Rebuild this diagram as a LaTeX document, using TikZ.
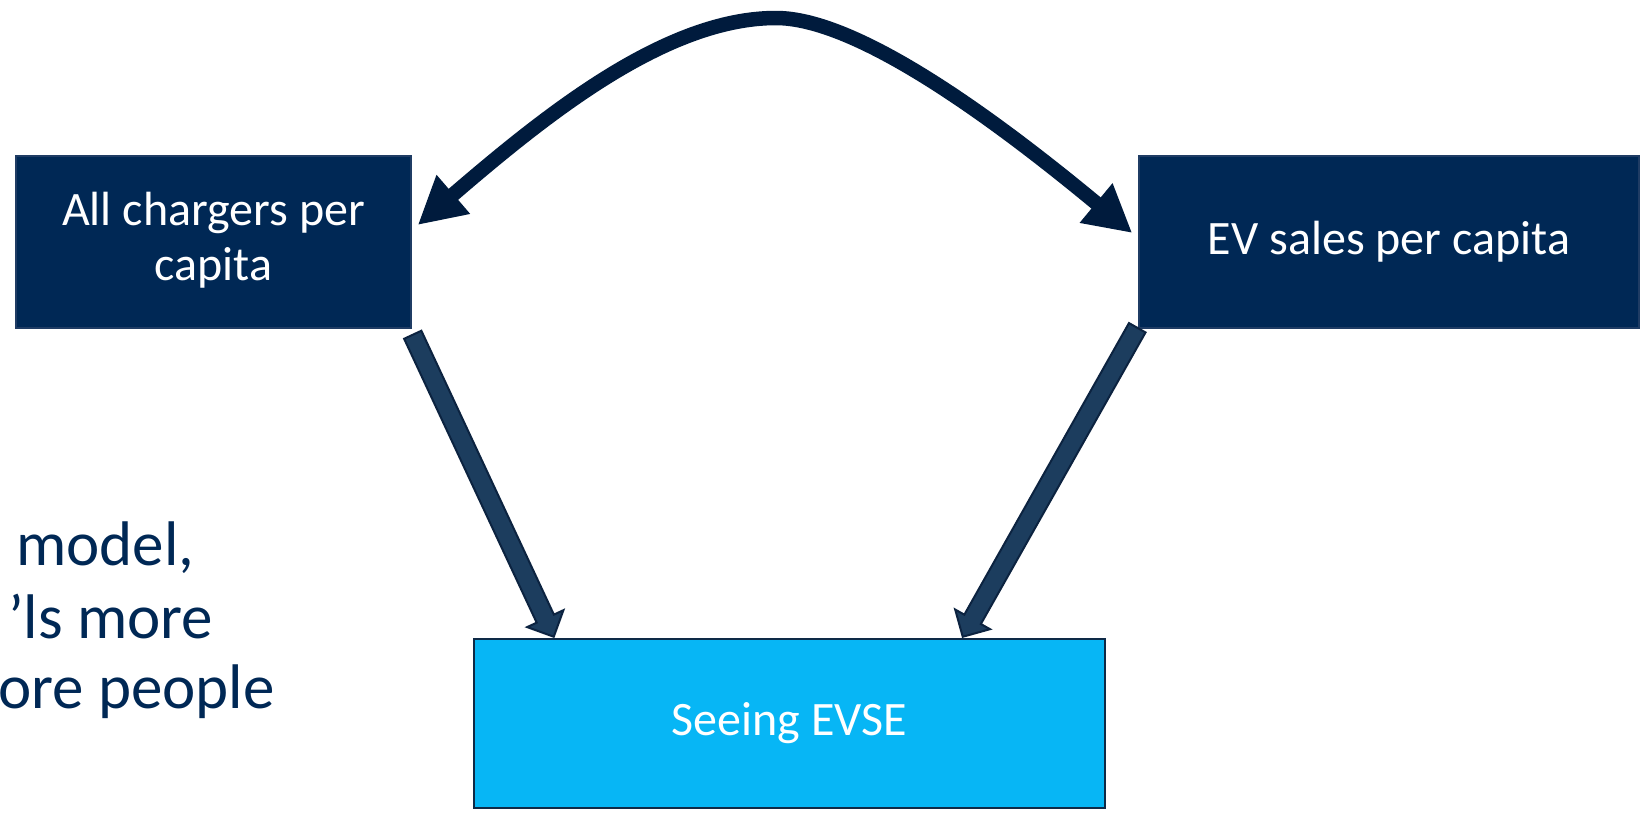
\documentclass[tikz,border=0pt]{standalone}
\usepackage{fontspec}
\setmainfont{Carlito}
\usetikzlibrary{arrows.meta,calc}
\definecolor{navy}{HTML}{002855}
\definecolor{navyedge}{HTML}{1F3C64}
\definecolor{curvecol}{HTML}{001B3D}
\definecolor{blockfill}{HTML}{1C3D5E}
\definecolor{blockedge}{HTML}{0C2340}
\definecolor{cyanfill}{HTML}{07B6F5}
\definecolor{cyanedge}{HTML}{0E2A47}
\newcommand\blkarrow[3]{%
  \coordinate (#3h) at ($(#2)!20pt!(#1)$);
  \draw[blockarrow] ($(#1)!9.5pt!90:(#2)$) -- ($(#3h)!9.5pt!90:(#2)$) -- ($(#3h)!20pt!90:(#2)$) -- (#2)
    -- ($(#3h)!20pt!-90:(#2)$) -- ($(#3h)!9.5pt!-90:(#2)$) -- ($(#1)!9.5pt!-90:(#2)$) -- cycle;
}
\begin{document}
\begin{tikzpicture}[x=1pt,y=-1pt,
  darkbox/.style={draw=navyedge, line width=1.5pt, fill=navy, text=white, inner sep=0pt,
    font=\fontsize{48}{55}\selectfont, align=center},
  lightbox/.style={draw=cyanedge, line width=2.5pt, fill=cyanfill, text=white, inner sep=0pt,
    font=\fontsize{48}{55}\selectfont, align=center},
  curvearrow/.style={draw=curvecol, line width=14.5pt,
    {Triangle[width=48pt,length=47pt]}-{Triangle[width=48pt,length=47pt]}},
  blockarrow/.style={draw=blockedge, fill=blockfill, line width=2pt, line join=miter},
  lefttext/.style={text=navy, inner sep=0pt, anchor=base west, font=\fontsize{63}{72}\selectfont}]
\clip (0,0) rectangle (1642,812);
\fill[white] (0,0) rectangle (1642,812);

\node[darkbox, minimum width=395pt, minimum height=172pt] (L) at (213.5,242)
  {\raisebox{-3pt}{\begin{tabular}{@{}c@{}}All chargers per\\capita\end{tabular}}};
\node[darkbox, minimum width=500pt, minimum height=172pt] (R) at (1389,242) {\raisebox{-7pt}{EV sales per capita}};
\node[lightbox, minimum width=631pt, minimum height=169pt] (B) at (789.5,723.5) {\raisebox{-5pt}{Seeing EVSE}};

\node[lefttext] (t1) at (16,565) {model,};
\node[lefttext] (t2) at (8,638) {’ls more};
\node[lefttext] (t3) at (-2,708) {ore people};

\coordinate (ltip) at ($(L.east)+(6,-17)$);
\coordinate (rtip) at ($(R.west)+(-6,-9)$);
\coordinate (peak) at (776,18);
\draw[curvearrow] (ltip) .. controls ($(ltip)+(129,-111)$) and (666,18) .. (peak)
  .. controls (836,18) and ($(rtip)+(-193,-160)$) .. (rtip);

\coordinate (a1s) at ($(L.south east)+(1,6)$);
\coordinate (a1e) at ($(B.north west)+(81,-1)$);
\coordinate (a2s) at ($(R.south west)+(-1,-1)$);
\coordinate (a2e) at ($(B.north west)+(490,-1)$);
\blkarrow{a1s}{a1e}{p}
\blkarrow{a2s}{a2e}{q}
\end{tikzpicture}
\end{document}
